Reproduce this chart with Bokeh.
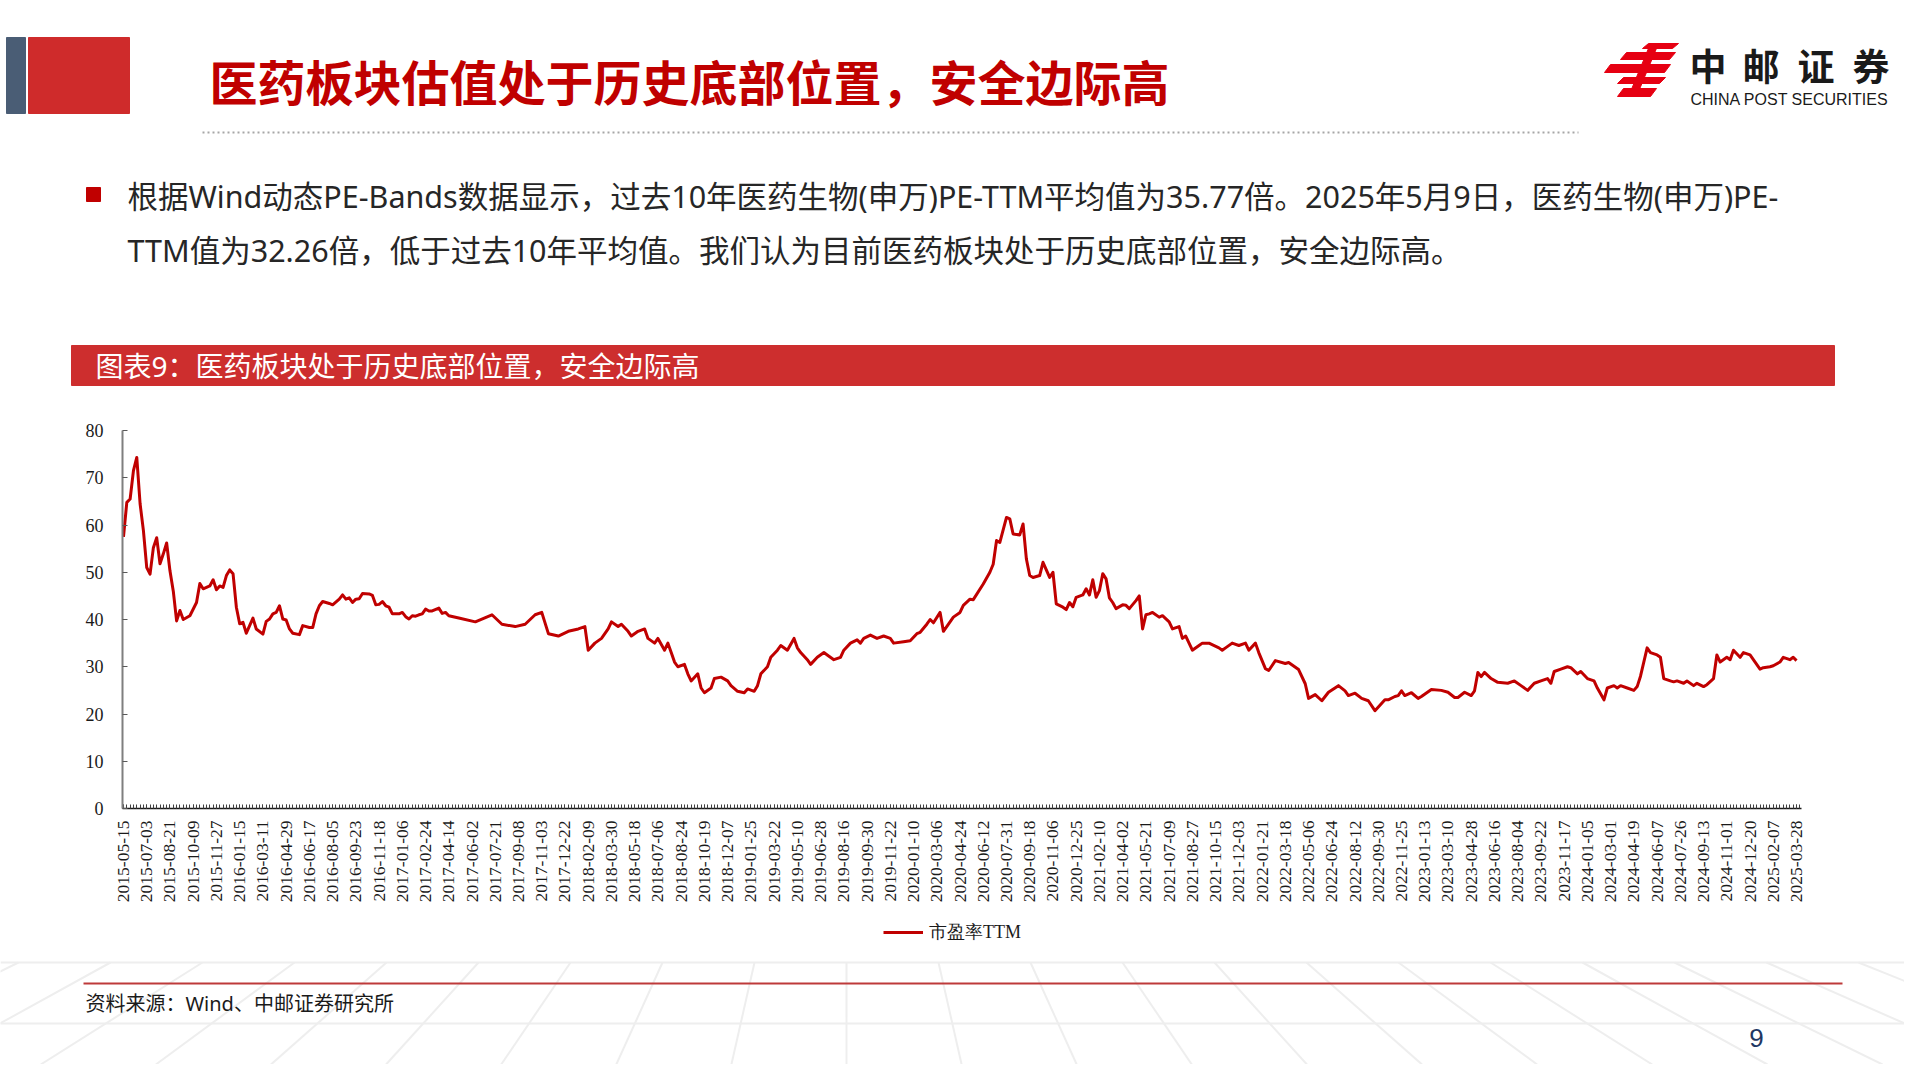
import math
from bokeh.plotting import figure
from bokeh.models import Range1d, FixedTicker, Legend, LegendItem, ColumnDataSource
from bokeh.layouts import column
from bokeh.embed import file_html
from bokeh.resources import INLINE
from bokeh.core.properties import value

# ---------------- texts ----------------
title_text = "医药板块估值处于历史底部位置，安全边际高"
body_line1 = "根据Wind动态PE-Bands数据显示，过去10年医药生物(申万)PE-TTM平均值为35.77倍。2025年5月9日，医药生物(申万)PE-"
body_line2 = "TTM值为32.26倍，低于过去10年平均值。我们认为目前医药板块处于历史底部位置，安全边际高。"
chart_title = "图表9：医药板块处于历史底部位置，安全边际高"
series_name = "市盈率TTM"
source_text = "资料来源：Wind、中邮证券研究所"
logo_cn = "中邮证券"
logo_en = "CHINA POST SECURITIES"
page_no = "9"

# ---------------- data ----------------
tick_dates = [
    "2015-05-15", "2015-07-03", "2015-08-21", "2015-10-09", "2015-11-27",
    "2016-01-15", "2016-03-11", "2016-04-29", "2016-06-17", "2016-08-05", "2016-09-23", "2016-11-18",
    "2017-01-06", "2017-02-24", "2017-04-14", "2017-06-02", "2017-07-21", "2017-09-08", "2017-11-03", "2017-12-22",
    "2018-02-09", "2018-03-30", "2018-05-18", "2018-07-06", "2018-08-24", "2018-10-19", "2018-12-07",
    "2019-01-25", "2019-03-22", "2019-05-10", "2019-06-28", "2019-08-16", "2019-09-30", "2019-11-22",
    "2020-01-10", "2020-03-06", "2020-04-24", "2020-06-12", "2020-07-31", "2020-09-18", "2020-11-06", "2020-12-25",
    "2021-02-10", "2021-04-02", "2021-05-21", "2021-07-09", "2021-08-27", "2021-10-15", "2021-12-03",
    "2022-01-21", "2022-03-18", "2022-05-06", "2022-06-24", "2022-08-12", "2022-09-30", "2022-11-25",
    "2023-01-13", "2023-03-10", "2023-04-28", "2023-06-16", "2023-08-04", "2023-09-22", "2023-11-17",
    "2024-01-05", "2024-03-01", "2024-04-19", "2024-06-07", "2024-07-26", "2024-09-13", "2024-11-01", "2024-12-20",
    "2025-02-07", "2025-03-28",
]
label_step = 7  # one date label every 7 weekly observations

# week number (0 = 2015-05-15) -> PE TTM
pe_by_week = {
    0: 57.5, 1: 64.8, 2: 65.5, 3: 71.5, 4: 74.3, 5: 64.5, 6: 58.8, 7: 51.0, 8: 49.6, 9: 55.2,
    10: 57.3, 11: 51.8, 12: 53.9, 13: 56.2, 14: 50.3, 15: 46.0, 16: 39.7, 17: 41.9, 18: 40.0, 20: 40.8,
    22: 43.6, 23: 47.6, 24: 46.5, 26: 47.1, 27: 48.4, 28: 46.3, 29: 47.1, 30: 46.8, 31: 49.3, 32: 50.5,
    33: 49.7, 34: 42.6, 35: 39.1, 36: 39.4, 37: 37.1, 38: 38.7, 39: 40.3, 40: 38.0, 42: 36.9, 43: 39.6,
    44: 40.1, 45: 41.2, 46: 41.5, 47: 42.9, 48: 40.1, 49: 39.9, 50: 38.0, 51: 37.1, 53: 36.8, 54: 38.7,
    56: 38.3, 57: 38.3, 58: 41.2, 59: 42.9, 60: 43.8, 62: 43.4, 63: 43.1, 65: 44.3, 66: 45.2, 67: 44.3,
    68: 44.6, 69: 43.6, 70: 44.3, 71: 44.4, 72: 45.5, 74: 45.4, 75: 45.1, 76: 43.1, 77: 43.2, 78: 43.8,
    79: 42.9, 80: 42.6, 81: 41.2, 83: 41.2, 84: 41.5, 85: 40.6, 86: 40.1, 87: 40.8, 88: 40.7, 89: 41.0,
    90: 41.2, 91: 42.2, 92: 41.8, 93: 41.8, 95: 42.4, 96: 41.3, 97: 41.5, 98: 40.8, 101: 40.3, 106: 39.5,
    111: 41.0, 114: 39.0, 118: 38.5, 121: 39.0, 124: 41.0, 126: 41.5, 128: 37.0, 131: 36.5, 134: 37.5, 137: 38.0,
    139: 38.5, 140: 33.5, 142: 35.0, 144: 36.0, 146: 38.0, 147: 39.5, 149: 38.5, 150: 39.0, 152: 37.5, 153: 36.5,
    155: 37.5, 157: 38.0, 158: 36.0, 160: 35.0, 161: 36.0, 163: 33.5, 164: 35.0, 165: 33.0, 166: 31.0, 167: 30.0,
    169: 30.5, 170: 28.5, 171: 27.0, 173: 28.5, 174: 25.5, 175: 24.5, 177: 25.5, 178: 27.5, 180: 27.8, 182: 27.0,
    183: 26.0, 185: 24.8, 187: 24.5, 188: 25.3, 190: 24.8, 191: 26.0, 192: 28.5, 194: 30.0, 195: 32.0, 197: 33.5,
    198: 34.5, 200: 33.5, 202: 36.0, 203: 34.0, 204: 33.0, 206: 31.5, 207: 30.5, 209: 32.0, 211: 33.0, 212: 32.5,
    214: 31.5, 216: 32.0, 217: 33.5, 219: 35.0, 221: 35.7, 222: 35.0, 223: 36.0, 225: 36.7, 227: 36.0, 229: 36.5,
    231: 36.0, 232: 35.0, 235: 35.3, 237: 35.5, 239: 37.0, 240: 37.3, 242: 39.0, 243: 40.0, 244: 39.3, 246: 41.5,
    247: 37.5, 249: 39.5, 250: 40.5, 252: 41.5, 253: 43.0, 255: 44.3, 256: 44.2, 259: 47.5, 261: 50.0, 262: 51.7,
    263: 56.7, 264: 56.3, 266: 61.6, 267: 61.3, 268: 58.1, 270: 57.9, 271: 60.2, 272: 52.8, 273: 49.3, 274: 48.9,
    276: 49.3, 277: 52.1, 279: 48.9, 280: 50.0, 281: 43.3, 283: 42.6, 284: 42.1, 285: 43.6, 286: 42.7, 287: 44.7,
    289: 45.2, 290: 46.5, 291: 45.2, 292: 48.4, 293: 44.7, 294: 46.1, 295: 49.7, 296: 48.6, 297: 44.6, 298: 43.6,
    299: 42.3, 301: 43.1, 302: 43.0, 303: 42.3, 305: 44.0, 306: 45.0, 307: 38.0, 308: 41.0, 309: 41.2, 310: 41.5,
    312: 40.5, 313: 40.8, 315: 39.5, 316: 38.0, 318: 38.5, 319: 36.0, 320: 36.5, 322: 33.5, 324: 34.5, 325: 35.0,
    327: 35.0, 330: 34.0, 331: 33.5, 332: 34.0, 334: 35.0, 336: 34.5, 338: 35.0, 339: 33.5, 341: 35.0, 342: 33.0,
    344: 29.6, 345: 29.2, 347: 31.3, 350: 30.7, 351: 30.9, 354: 29.4, 356: 26.4, 357: 23.3, 359: 24.1, 361: 22.8,
    363: 24.6, 366: 26.0, 368: 24.9, 369: 23.9, 371: 24.4, 373: 23.3, 375: 22.8, 377: 20.7, 380: 23.0, 381: 23.0,
    383: 23.7, 384: 23.9, 385: 24.9, 386: 23.9, 388: 24.5, 390: 23.3, 391: 23.7, 394: 25.2, 397: 25.0, 399: 24.6,
    401: 23.5, 402: 23.5, 404: 24.6, 406: 23.9, 407: 24.9, 408: 28.8, 409: 27.9, 410: 28.8, 412: 27.5, 414: 26.7,
    417: 26.5, 419: 27.0, 421: 26.0, 423: 25.0, 425: 26.5, 427: 27.0, 429: 27.5, 430: 26.5, 431: 29.0, 433: 29.5,
    435: 30.0, 436: 29.8, 438: 28.5, 439: 29.0, 441: 27.5, 443: 27.0, 444: 25.5, 446: 23.0, 447: 25.5, 449: 26.0,
    450: 25.5, 451: 26.0, 453: 25.5, 455: 25.0, 456: 25.8, 457: 28.0, 459: 34.0, 460: 33.0, 462: 32.5, 463: 32.0,
    464: 27.5, 466: 27.0, 467: 26.8, 468: 27.0, 470: 26.5, 471: 27.0, 473: 26.0, 474: 26.5, 476: 25.8, 477: 26.2,
    479: 27.5, 480: 32.5, 481: 31.0, 483: 32.0, 484: 31.5, 485: 33.5, 487: 32.0, 488: 33.0, 490: 32.5, 491: 31.5,
    493: 29.5, 494: 29.8, 496: 30.0, 497: 30.2, 499: 31.0, 500: 32.0, 502: 31.5, 503: 32.0, 504: 31.3,
}
week_no = list(pe_by_week.keys())
pe_ttm = list(pe_by_week.values())
y_ticks = [0, 10, 20, 30, 40, 50, 60, 70, 80]

# ---------------- styles ----------------
SANS = "Noto Sans, Noto Sans CJK SC"
CJK = "Noto Sans CJK SC"
SERIF = "Liberation Serif"
RED = "#C00000"
W = 1904


def canvas(h, top):
    f = figure(width=W, height=h, x_range=Range1d(0, W), y_range=Range1d(top + h, top),
               x_axis_type=None, y_axis_type=None, toolbar_location=None, output_backend="svg",
               min_border=0, outline_line_color=None, frame_align=False,
               background_fill_color="white", border_fill_color="white")
    f.xgrid.visible = False
    f.ygrid.visible = False
    return f


# ---------------- header ----------------
hdr = canvas(400, 0)
hdr.quad(left=6, right=25, top=37, bottom=113, color="#4A5D75")
hdr.quad(left=28, right=129, top=37, bottom=113, color="#CF2B2B")
hdr.text(x=[209], y=[79], text=[title_text], text_font=value(CJK), text_font_style="bold",
         text_font_size="48px", text_color=RED, text_baseline="middle", text_align="left")
hdr.line(x=[202, 1578], y=[132, 132], line_color="#A6A6A6", line_width=2, line_dash="2 3")

# logo emblem
bars = [(1645, 1675, 43, 48), (1623, 1672, 52, 59), (1607, 1667, 64, 72), (1620, 1662, 77, 83), (1620, 1653, 88, 96)]
sk = 3
hdr.patches(xs=[[l + sk, r + sk, r - sk, l - sk] for l, r, t, b in bars],
            ys=[[t, t, b, b] for l, r, t, b in bars], color="#E60012")
hdr.patch(x=[1650, 1658, 1636, 1628], y=[43, 43, 96, 96], color="#E60012")
hdr.text(x=[1689, 1742, 1797, 1852], y=[64] * 4, text=list(logo_cn), text_font=value(CJK),
         text_font_style="bold", text_font_size="37px", text_color="#1A1A1A",
         text_baseline="middle", text_align="left")
hdr.text(x=[1690], y=[99], text=[logo_en], text_font=value("Liberation Sans"),
         text_font_size="16px", text_color="#1A1A1A", text_baseline="middle", text_align="left")

# bullet + body
hdr.quad(left=86, right=100, top=187, bottom=201, color=RED)
hdr.text(x=[127, 127], y=[195, 249], text=[body_line1, body_line2], text_font=value(SANS),
         text_font_size="30.5px", text_color="#262626", text_baseline="middle", text_align="left")

# chart title band
hdr.quad(left=71, right=1834, top=345, bottom=385, color="#CD2E2E")
hdr.text(x=[95], y=[365], text=[chart_title], text_font=value(SANS), text_font_size="28px",
         text_color="white", text_baseline="middle", text_align="left")

# ---------------- chart ----------------
n_weeks = label_step * (len(tick_dates) - 1) + 1
src = ColumnDataSource(dict(week=week_no, pe=pe_ttm))
ch = figure(width=W, height=512, x_range=Range1d(-0.3, n_weeks + 0.5), y_range=Range1d(0, 80),
            toolbar_location=None, output_backend="svg", frame_align=False,
            min_border_left=122, min_border_right=103, min_border_top=30, min_border_bottom=104,
            outline_line_color=None, background_fill_color="white", border_fill_color="white")
ch.xgrid.visible = False
ch.ygrid.visible = False
line_r = ch.line("week", "pe", source=src, line_color=RED, line_width=3, line_join="round")

yax = ch.yaxis[0]
yax.ticker = FixedTicker(ticks=y_ticks)
yax.axis_line_color = "#7F7F7F"
yax.axis_line_width = 2
yax.major_tick_in = 5
yax.major_tick_out = 0
yax.minor_tick_line_color = None
yax.major_tick_line_color = "#595959"
yax.major_label_text_font = SERIF
yax.major_label_text_font_size = "18px"
yax.major_label_text_color = "#1A1A1A"
yax.major_label_standoff = 19

xax = ch.xaxis[0]
major = [label_step * k for k in range(len(tick_dates))]
xax.ticker = FixedTicker(ticks=major, minor_ticks=list(range(n_weeks + 1)))
xax.major_label_overrides = {t: d for t, d in zip(major, tick_dates)}
xax.major_label_orientation = math.pi / 2
xax.major_label_text_font = SERIF
xax.major_label_text_font_size = "17.5px"
xax.major_label_text_color = "#1A1A1A"
xax.major_label_standoff = 12
xax.axis_line_color = "#1A1A1A"
xax.axis_line_width = 1.5
xax.major_tick_in = 4
xax.major_tick_out = 0
xax.minor_tick_in = 4
xax.minor_tick_out = 0
xax.major_tick_line_color = "#404040"
xax.minor_tick_line_color = "#404040"

# ---------------- legend strip ----------------
lg = canvas(40, 912)
# legend key: a line renderer styled like the series (a single off-range point, so nothing is drawn)
key_r = lg.line(x=[-10], y=[-10], line_color=RED, line_width=3)
legend = Legend(items=[LegendItem(label=series_name, renderers=[key_r])],
                orientation="horizontal", location="center", border_line_color=None,
                background_fill_alpha=0, label_text_font=SERIF, label_text_font_size="18px",
                label_text_color="#1A1A1A", glyph_width=40, glyph_height=20, label_standoff=6,
                margin=0, padding=8, spacing=0)
lg.add_layout(legend, "center")

# ---------------- footer ----------------
ftr = canvas(112, 952)
vx, vy = 846, 556
xs_top = [vx + k * 92 for k in range(-10, 13)]
ftr.segment(x0=xs_top, y0=[962] * len(xs_top),
            x1=[vx + (x - vx) * (1064 - vy) / (962 - vy) for x in xs_top], y1=[1064] * len(xs_top),
            line_color="#EEEEEE", line_width=2)
ftr.segment(x0=[0, 0], y0=[962, 1023], x1=[W, W], y1=[962, 1023],
            line_color="#EEEEEE", line_width=2)
ftr.line(x=[83, 1842], y=[983, 983], line_color="#BE3A3A", line_width=2)
ftr.text(x=[85], y=[1003], text=[source_text], text_font=value(SANS), text_font_size="20px",
         text_color="#1A1A1A", text_baseline="middle", text_align="left")
ftr.text(x=[1756], y=[1037], text=[page_no], text_font=value("Liberation Sans"),
         text_font_size="26px", text_color="#1F3864", text_baseline="middle", text_align="center")

page = column(hdr, ch, lg, ftr, spacing=0)
open("out.html", "w").write(file_html(page, INLINE))
